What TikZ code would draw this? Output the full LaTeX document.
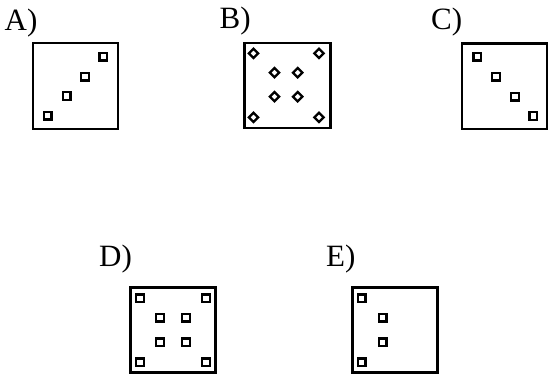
\documentclass[tikz,border=0pt]{standalone}
\usepackage{fontspec}
\setmainfont{Liberation Serif}
\begin{document}
\begin{tikzpicture}[x=1pt,y=-1pt,
  frame/.style={draw,line width=2.8pt,inner sep=0pt},
  sq/.style={draw,line width=2.3pt,minimum size=7.8pt,inner sep=0pt},
  dia/.style={draw,line width=2.3pt,minimum size=6.6pt,inner sep=0pt,rotate=45},
  lab/.style={anchor=base west,inner sep=0pt,font=\fontsize{31}{36}\selectfont}]
\useasboundingbox (0,0) rectangle (549,378);
% labels
\node[lab] (lA) at (4.5,30) {A)};
\node[lab] (lB) at (219.5,28.5) {B)};
\node[lab] (lC) at (431,29.5) {C)};
\node[lab] (lD) at (99,266.7) {D)};
\node[lab] (lE) at (326,266.7) {E)};
% frames
\node[frame,minimum width=85pt,minimum height=86pt] (fA) at (75.5,86) {};
\node[frame,minimum width=86pt,minimum height=85pt] (fB) at (287.5,85.5) {};
\node[frame,minimum width=85pt,minimum height=85.5pt] (fC) at (504.5,86.2) {};
\node[frame,minimum width=85.5pt,minimum height=85.5pt] (fD) at (173,330) {};
\node[frame,minimum width=85.5pt,minimum height=85pt] (fE) at (395,330.3) {};
% A
\node[sq] (a1) at (103.3,56.7) {};
\node[sq] (a2) at (85,76.7) {};
\node[sq] (a3) at (66.7,96) {};
\node[sq] (a4) at (47.7,115.7) {};
% B
\node[dia] (b1) at (253.5,53.3) {};
\node[dia] (b2) at (319,53.3) {};
\node[dia] (b3) at (274.5,72.7) {};
\node[dia] (b4) at (297.7,72.7) {};
\node[dia] (b5) at (274.5,96.7) {};
\node[dia] (b6) at (297.7,96.7) {};
\node[dia] (b7) at (253.5,117.3) {};
\node[dia] (b8) at (319,117.3) {};
% C
\node[sq] (c1) at (477.3,56.7) {};
\node[sq] (c2) at (496,76.7) {};
\node[sq] (c3) at (515,96.7) {};
\node[sq] (c4) at (533.3,116) {};
% D
\node[sq] (d1) at (140,298.3) {};
\node[sq] (d2) at (206,298.3) {};
\node[sq] (d3) at (160,317.7) {};
\node[sq] (d4) at (186,317.7) {};
\node[sq] (d5) at (160,342.3) {};
\node[sq] (d6) at (186,342.3) {};
\node[sq] (d7) at (140,362.3) {};
\node[sq] (d8) at (206,362.3) {};
% E
\node[sq] (e1) at (361.7,298.3) {};
\node[sq] (e2) at (382.7,317.7) {};
\node[sq] (e3) at (382.7,342.3) {};
\node[sq] (e4) at (361.7,362.3) {};
\end{tikzpicture}
\end{document}
